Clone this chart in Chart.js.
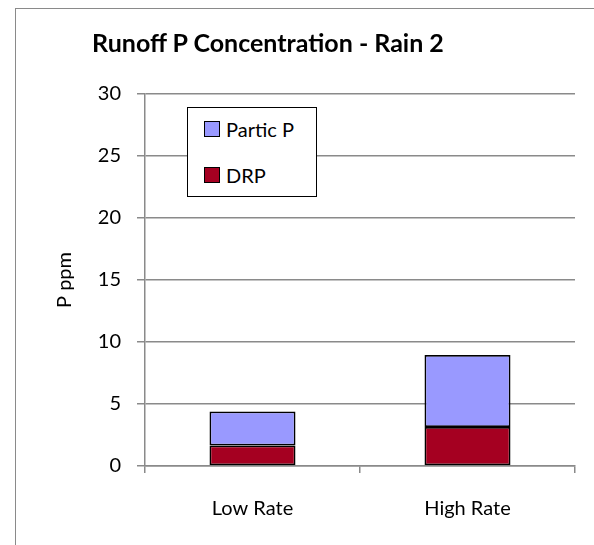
<!DOCTYPE html>
<html>
<head>
<meta charset="utf-8">
<script src="https://cdn.jsdelivr.net/npm/chart.js@4"></script>
<style>
  html, body { margin: 0; padding: 0; overflow: hidden; background: #fff; }
  #wrap { position: relative; width: 594px; height: 545px; font-family: Lato, "Open Sans", sans-serif; }
  #frame { position: absolute; left: 15px; top: 8px; width: 700px; height: 700px; border: 1.5px solid #8a8a8a; }
  #chart { position: absolute; left: 0; top: 0; }
  #title { position: absolute; left: 0; top: 27px; width: 536px; text-align: center; font-weight: bold; font-size: 25px; color: #000; }
  #legend { position: absolute; left: 187px; top: 107px; width: 128px; height: 88px; border: 1px solid #000; background: #fff; }
  .item { position: absolute; left: 16px; display: flex; align-items: center; font-size: 20px; color: #000; }
  .swatch { width: 14px; height: 14px; border: 1px solid #000; margin-right: 6px; }
</style>
</head>
<body>
<div id="wrap">
  <div id="frame"></div>
  <canvas id="chart" width="594" height="545"></canvas>
  <div id="title">Runoff P Concentration - Rain 2</div>
  <div id="legend"></div>
</div>
<script>
const categories = ['Low Rate', 'High Rate'];
const drpValues = [1.65, 3.15];
const particValues = [2.75, 5.8];
const yTicks = [0, 5, 10, 15, 20, 25, 30];

const gridColor = '#8a8a8a';
const tickFont = { family: 'Lato', size: 20 };

const chart = new Chart(document.getElementById('chart'), {
  type: 'bar',
  data: {
    labels: categories,
    datasets: [
      { label: 'DRP', data: drpValues, backgroundColor: '#a50021', borderColor: '#000', borderWidth: 1.75, borderSkipped: false },
      { label: 'Partic P', data: particValues, backgroundColor: '#9999ff', borderColor: '#000', borderWidth: 1.75, borderSkipped: false }
    ]
  },
  options: {
    responsive: false,
    animation: false,
    layout: { padding: { left: 0, top: 94, right: 19, bottom: 0 } },
    plugins: {
      legend: { display: false },
      title: { display: false },
      tooltip: { enabled: false }
    },
    datasets: { bar: { categoryPercentage: 1, barPercentage: 0.4 } },
    scales: {
      x: {
        stacked: true,
        afterFit: s => { s.height = 79; },
        border: { color: gridColor, width: 1.5 },
        grid: { offset: true, drawOnChartArea: false, drawTicks: true, tickLength: 7, color: gridColor, lineWidth: 1.5 },
        ticks: { color: '#000', padding: 24, font: tickFont }
      },
      y: {
        stacked: true,
        min: 0,
        max: 30,
        afterFit: s => { s.width = 145; },
        afterBuildTicks: s => { s.ticks = yTicks.map(v => ({ value: v })); },
        border: { color: gridColor, width: 1.5 },
        grid: { color: gridColor, lineWidth: 1.5, tickLength: 8 },
        ticks: { color: '#000', padding: 16, font: tickFont },
        title: { display: true, text: 'P ppm', color: '#000', padding: { top: 53 }, font: tickFont }
      }
    }
  }
});

// legend box: top entry is the upper stack segment
const legend = document.getElementById('legend');
const tops = [22, 68];
chart.data.datasets.slice().reverse().forEach((ds, i) => {
  legend.insertAdjacentHTML('beforeend',
    `<div class="item" style="top:${tops[i] - 13}px"><span class="swatch" style="background:${ds.backgroundColor}"></span>${ds.label}</div>`);
});
</script>
</body>
</html>
